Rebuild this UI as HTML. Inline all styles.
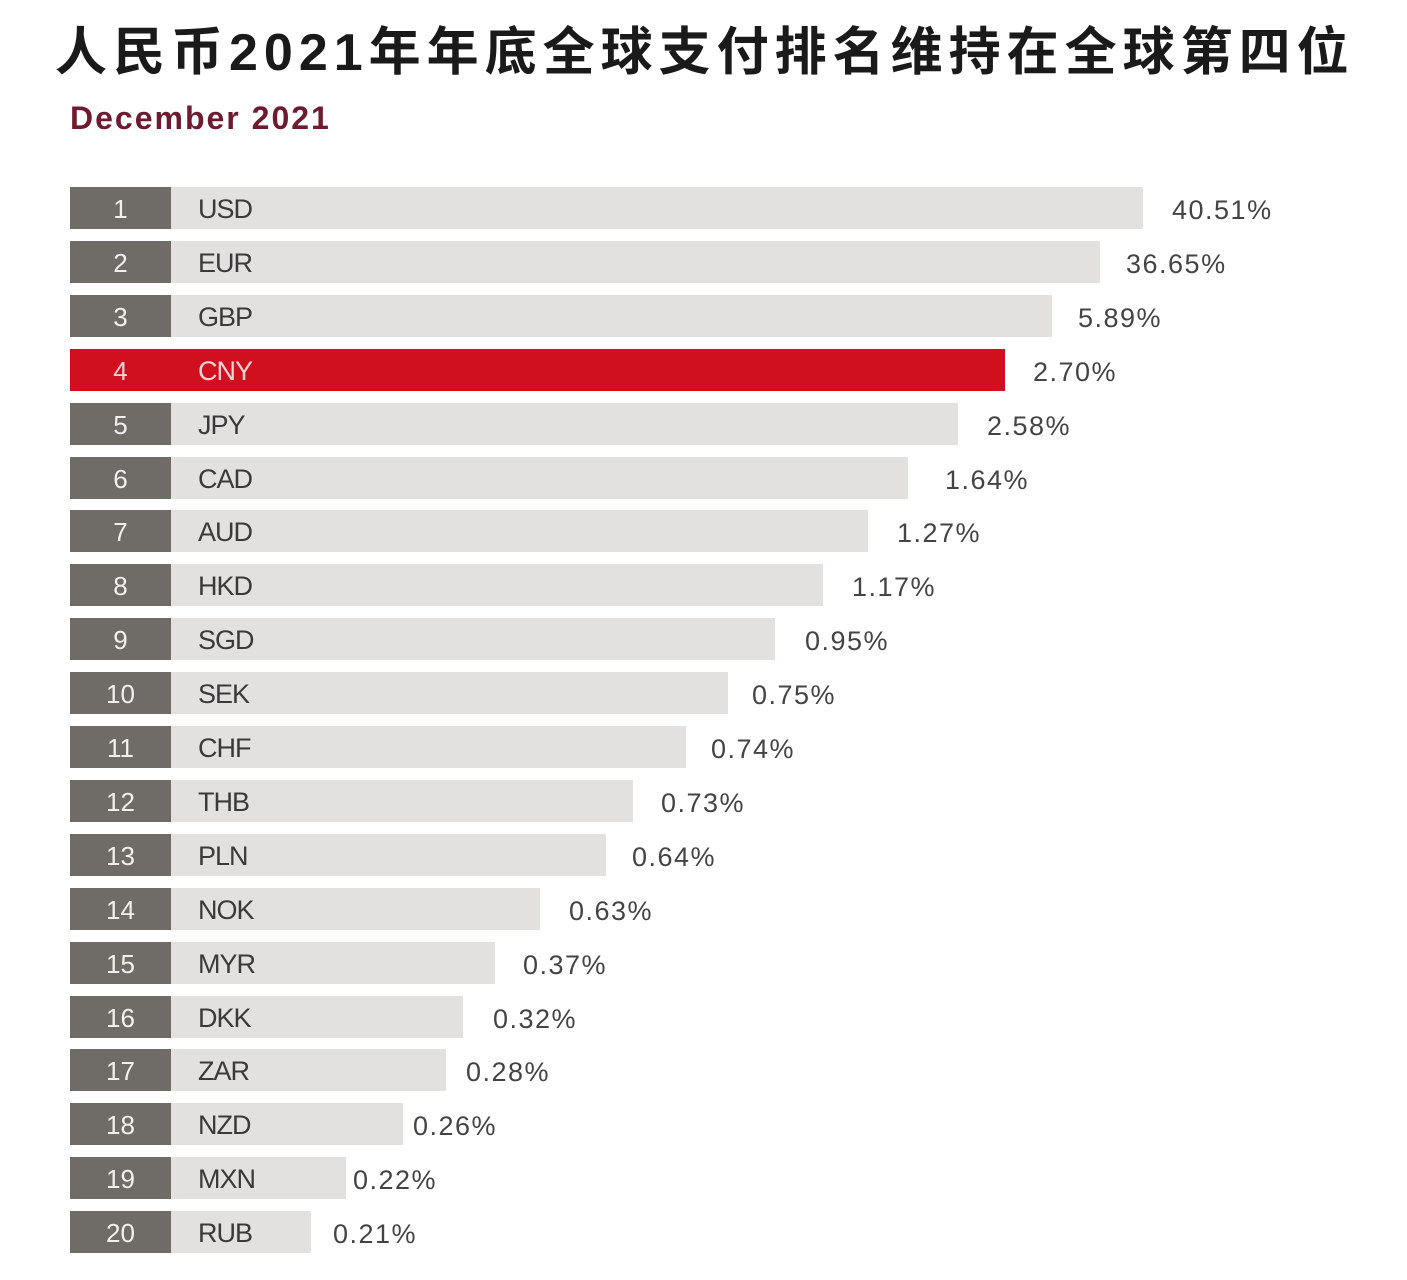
<!DOCTYPE html>
<html><head><meta charset="utf-8"><style>
body{margin:0;width:1407px;height:1280px;background:#fff;position:relative;overflow:hidden;font-family:"Liberation Sans","Noto Sans CJK SC",sans-serif}
.t{position:absolute;left:55px;top:10px;font-size:52px;font-weight:bold;color:#1a1a1a;white-space:nowrap;letter-spacing:6px}
.d{position:absolute;left:70px;top:100px;font-size:32px;font-weight:bold;color:#6e1a30;letter-spacing:2px}
.r{position:absolute;left:70px;height:42px}
.n{position:absolute;left:0;top:0;width:101px;height:42px;background:#6f6b67;color:#f2f0ee;font-size:26px;line-height:44px;text-align:center}
.b{position:absolute;left:101px;top:0;height:42px;background:#e3e1df;color:#3a3a3a;font-size:27px;line-height:44px;padding-left:27px;box-sizing:border-box;letter-spacing:-1px}
.v{position:absolute;top:0;font-size:27px;line-height:46px;color:#444;white-space:nowrap;letter-spacing:1.5px}
.red .n,.red .b{background:#d0101e;color:#f3d5d5}
</style></head><body>
<div class="t">人民币2021年年底全球支付排名维持在全球第四位</div>
<div class="d">December 2021</div>
<div id="c"></div>
<script>
var D=[["USD",1143,"40.51%",1172],["EUR",1100,"36.65%",1126],["GBP",1052,"5.89%",1078],["CNY",1005,"2.70%",1033],["JPY",958,"2.58%",987],["CAD",908,"1.64%",945],["AUD",868,"1.27%",897],["HKD",823,"1.17%",852],["SGD",775,"0.95%",805],["SEK",728,"0.75%",752],["CHF",686,"0.74%",711],["THB",633,"0.73%",661],["PLN",606,"0.64%",632],["NOK",540,"0.63%",569],["MYR",495,"0.37%",523],["DKK",463,"0.32%",493],["ZAR",446,"0.28%",466],["NZD",403,"0.26%",413],["MXN",346,"0.22%",353],["RUB",311,"0.21%",333]];
var h="";
D.forEach(function(d,i){var y=187+i*53.9;
h+='<div class="r'+(i==3?' red':'')+'" style="top:'+y+'px;width:'+(d[1]-70)+'px"><div class="n">'+(i+1)+'</div><div class="b" style="width:'+(d[1]-171)+'px">'+d[0]+'</div></div><div class="v" style="top:'+y+'px;left:'+d[3]+'px">'+d[2]+'</div>';});
document.getElementById("c").innerHTML=h;
</script>
</body></html>
